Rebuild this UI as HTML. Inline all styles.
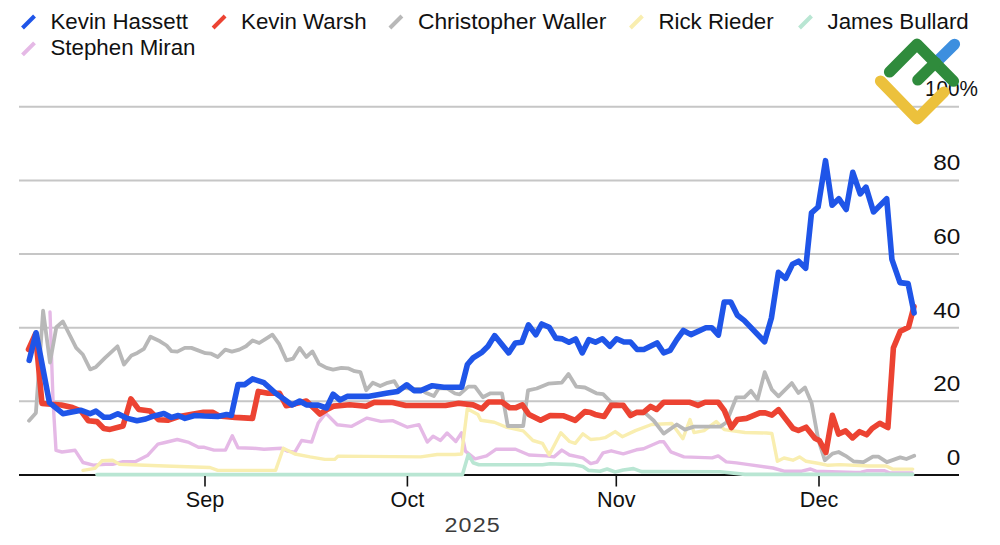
<!DOCTYPE html>
<html><head><meta charset="utf-8"><style>
html,body{margin:0;padding:0;background:#fff;}
svg{display:block;}
text{font-family:"Liberation Sans",sans-serif;fill:#111;}
</style></head><body>
<svg width="1000" height="545" viewBox="0 0 1000 545">
<g font-size="22.3"><line x1="22.5" y1="28.0" x2="34.5" y2="16.0" stroke="#1f55e8" stroke-width="4" /><text transform="translate(50.5,28.6) scale(1.0,1)">Kevin Hassett</text><line x1="213.1" y1="28.0" x2="225.1" y2="16.0" stroke="#ec4332" stroke-width="4" /><text transform="translate(241.1,28.6) scale(1.0,1)">Kevin Warsh</text><line x1="389.9" y1="28.0" x2="401.9" y2="16.0" stroke="#b8b8b8" stroke-width="4" /><text transform="translate(417.9,28.6) scale(1.025,1)">Christopher Waller</text><line x1="630.4" y1="28.0" x2="642.4" y2="16.0" stroke="#f9eeb0" stroke-width="4" /><text transform="translate(658.4,28.6) scale(1.0,1)">Rick Rieder</text><line x1="799.5" y1="28.0" x2="811.5" y2="16.0" stroke="#b9e6d3" stroke-width="4" /><text transform="translate(827.5,28.6) scale(1.0,1)">James Bullard</text><line x1="22.5" y1="54.8" x2="34.5" y2="42.8" stroke="#e5b9e6" stroke-width="4" /><text transform="translate(50.5,55.4) scale(1.0,1)">Stephen Miran</text></g>
<g stroke="#c6c6c6" stroke-width="2"><line x1="19" y1="401.3" x2="959" y2="401.3" /><line x1="19" y1="327.7" x2="959" y2="327.7" /><line x1="19" y1="254.0" x2="959" y2="254.0" /><line x1="19" y1="180.4" x2="959" y2="180.4" /><line x1="19" y1="106.7" x2="959" y2="106.7" /></g>
<line x1="19" y1="475" x2="959" y2="475" stroke="#111" stroke-width="2.2" />
<g fill="none" stroke-linejoin="round" stroke-linecap="round">
<polyline points="50,312 53,400 56,450.3 62,452 75.1,450.3 83,462.5 93.4,465.1 105.6,464.3 112.6,464.3 123,461.7 135.2,461.7 147.4,455.6 157.9,444.2 165,442.5 177.3,439.5 188.9,442.4 198.5,447.3 204.3,447.3 214,450.1 225.5,450.1 232.3,435.7 238,447.8 252.5,448.2 264,449.2 281.4,448.2 287.2,451.1 294.9,452.1 301.6,440.5 311.6,442.1 318.2,423 325.7,413.1 337.2,424.7 351.3,426.4 367,418.1 381,421.4 392.6,420.6 407.5,427.2 419,424.7 427.3,442.1 433.1,436.3 440.5,440.4 447.1,433 455.8,441.5 461.6,432.8 465.4,451.1 475,458.8 486.6,455.9 496.2,449.2 515.5,449.2 529,455 546.3,455.9 554,456.9 561.8,450.1 569.5,455 582.9,457.8 590.7,463.6 597,462 603.1,452.8 611.2,450.8 623.3,453.8 636.4,449.8 643.5,448.8 659.6,441.7 663.7,441.7 670.8,451.8 683.9,456.9 712.2,457.9 718.2,455.9 726.3,461.9 736.4,462.9 748.8,464.6 773,468 784,471.2 801.7,471.2 810.5,469 816,471.2 855,472.5 861.2,472.2 867.4,470.7 884.6,470.7 889.3,472.7 912,473" stroke="#e5b9e6" stroke-width="3.4" />
<polyline points="96.9,474.6 462.5,474.6 468.3,454.5 473.1,462.7 478.9,464.8 542.5,464.8 550.2,463.8 573.3,464.6 582.9,466.5 588.7,470.4 600,471.3 607.1,469 615.2,472 623.3,470 633.4,468.6 641.5,471.6 720,471.8 745,474.4 912.7,474.4" stroke="#b9e6d3" stroke-width="3.6" />
<polyline points="83,470.4 95,468.3 102,460.8 112.6,460.3 119.5,464.3 165,466 210,467.5 217.8,470.4 275.6,470.4 283.3,448.2 294.9,454 310,456.9 324.8,459.4 334.8,459.4 338,456.1 420.7,456.9 437.2,454.5 455,454.5 461.6,454 467.3,408.7 477.9,414.5 480.8,420.3 494.3,422.2 505.9,427 523.2,430.9 532.9,440.5 542.5,443.4 549.2,455 560.8,432.8 569.5,441.5 575.2,443.4 582.9,433.8 590.7,439.5 600,438.6 605.1,437.7 615.2,431.6 622.3,436.7 635.4,430.6 651.6,424.5 671.8,423.5 682.9,438.7 690,419.5 694,432.6 704.1,430.6 716.2,421.5 724.3,429.6 745,432.5 766.4,433 771.9,433.5 777.4,461.3 784,458 792.9,460.2 799.5,456.9 806.1,461.3 819.3,463.5 828.1,465.3 840,464.6 869,466 886.2,466 892.4,469.1 912.7,469.1" stroke="#f9eeb0" stroke-width="3.4" />
<polyline points="29,420.7 35.9,412.9 43.1,310.7 50,362.5 56.3,327.3 62.9,321.5 76.2,347.9 82.8,354.5 90.2,369.4 96,366.9 105,357.9 117.5,346.3 124,364.5 131.5,355.4 137.3,352.9 143.9,348.8 150.5,336.7 160,341.3 166.6,345.5 171.6,351.2 177.4,351.6 184.8,347.9 191.4,347.9 198,350.4 205.5,353.2 211.2,353.7 217.8,357 225.3,349.6 231.9,351.6 239.3,349.6 246,346.3 252.6,340.5 259.2,343 265.8,338.8 272.4,334.7 279,343.8 286.4,360.3 293,358.7 299.7,347.9 306.3,357 312.4,351.4 319,363.8 326.5,367.9 333.1,369.6 341.4,367.9 348,368.3 354.6,371.2 360.4,372.1 366.2,390.2 372.8,382.8 380.2,386.1 387.6,382.8 394.3,381.2 399.2,389.4 406,388 414,389 420,389 425.7,392.7 433.9,396 438.9,388 447.1,388.5 455,393.5 459.6,394.3 468.3,386.6 475,386.6 482.8,397.2 490.5,393.3 502,393.3 507.8,426 523.2,426 528,390.4 536.7,388.5 548.3,383.7 561.8,382.7 568.5,374 576.2,386.6 584.9,387.5 596.4,393.3 603.1,394.2 611.2,402.3 623,406 632,413 645.5,413.4 653.6,420.5 663.7,433.6 676.8,424.5 684.9,429.6 694,426.6 720.3,426.6 726.3,422.5 736.4,397.3 744.4,397.4 751,390.8 757.6,399.6 764.7,372.1 771.9,389.7 778.5,396.3 791.8,383.1 798.4,393 805,387.5 811.6,403 818.2,439.3 824.8,460.2 832.5,453.6 838.6,452 845.6,455.8 853.4,461.3 863.5,462.1 872.9,456.6 878.4,456.6 886.9,462.1 900.2,457.4 906.4,459 914.2,455.8" stroke="#b8b8b8" stroke-width="3.8" />
<polyline points="28.5,349.5 35.5,334 42,403.5 48,404 61.2,405 72.5,407.6 81.2,411 88.2,420.7 96.9,421.6 103.8,428.5 110,429.4 123,426 130.9,398.9 138.7,409.4 150,411.1 158.7,419.8 167.7,420.3 179.3,416.4 203.5,412.3 212.5,412.3 219,416 235.1,417.4 252.5,418.4 258.3,391.4 267.9,393.3 279.5,393.3 286.2,405.8 294.9,403.9 306.4,401 319.9,414 326.5,409.8 333.9,406.1 349.6,404.7 366.2,406.3 374.4,402.2 392.6,402.5 405.8,405.5 445.5,405.5 458.7,403.2 473.1,404.9 481.8,408.7 488.5,402 502,402 509.7,407.8 515.5,407.8 522.3,404.9 529,414.5 540.6,420.3 550.2,415.5 563.7,415.8 575.2,420.3 584.9,411.6 590.7,412.6 595,414.4 604.1,416.5 611.2,405.4 623.3,405.4 630.4,415.5 636.4,412.4 643.5,412.4 650.6,406.4 656.6,409.4 663.7,402.3 690,402.3 698,405.4 705.1,402.3 718.2,402.3 724.3,410.4 731.4,427.6 737.4,419.5 746.6,418.4 759.8,412.9 765.3,412.9 771.9,415.1 778.5,409.6 792.9,428.3 798.4,430.5 806.1,427.2 814.9,438.2 819.3,440.4 825.9,452.5 832.4,415.3 838.6,434 845.6,430.9 852.6,437.9 859.6,431.7 866.7,434.8 872.1,428.5 879.8,423.3 887.9,427.6 893.4,347.8 900.3,331.3 908.5,327.2 914,306.5" stroke="#ec4332" stroke-width="5.6" />
<polyline points="29.2,360.4 36.1,332.8 49.4,402.6 62.9,413.7 81.2,410.3 90,413.7 96,411.1 103.8,417.2 110,417.2 117.8,413.7 126.5,418.1 137,420.7 145.7,419 152.6,416.4 163.9,413.5 171.6,417.4 178.3,415.5 185,418.4 194.7,415.5 204.3,416 217.8,416.4 226.5,414.5 231.3,415.5 238,384.6 244.8,384.6 252.5,378.9 264,382.7 275.6,393.3 285.2,400 292,404.9 299.7,401 306.4,404.9 318.2,405.1 326.5,408 333.1,394.2 340,400 347.1,396.4 367.8,396.4 387.6,393.1 397.6,391.4 406.7,384.8 414.1,390.6 420.7,390.6 432.3,385.7 443.8,387.3 461.6,387.2 467.4,364.5 473.1,357.9 482.2,352.1 488,346.3 494.6,335.6 508.7,352.9 515.3,343 521.9,342.2 528.5,324.8 535.9,334.8 541.7,324 549.2,327.3 555.8,338.1 562.4,338.9 569,342.2 575.6,338.9 582.2,352.9 588.8,339.7 595.4,342.2 602.4,338.8 609.9,346.2 616.5,338.8 623.9,342 630.5,342 637.1,349.5 643.8,349.5 657,342.9 663.6,352.8 670.2,350.3 676.8,339.6 683.4,330.5 690.9,334.6 705.9,327.7 711.7,327.7 718.4,335.1 724.2,302 730.8,302 737.4,315.2 744.1,320.4 764.6,341.7 771.4,318 778.4,272.3 785.5,278.4 792.5,264.2 798.6,261.2 805.7,268.3 811.5,212.8 818.1,207 825.5,160.7 832.1,205.3 838.8,198.7 846.2,209.5 852.8,172.3 860.2,193.8 866,187.1 873.5,211.9 886.7,198.7 891.9,259.3 900,282.6 908.1,283.6 914.1,312.9" stroke="#1f55e8" stroke-width="5.6" />
</g>
<g font-size="21.6"><text transform="translate(960.3,465.0) scale(1.13,1)" text-anchor="end">0</text><text transform="translate(960.3,391.3) scale(1.13,1)" text-anchor="end">20</text><text transform="translate(960.3,317.7) scale(1.13,1)" text-anchor="end">40</text><text transform="translate(960.3,244.0) scale(1.13,1)" text-anchor="end">60</text><text transform="translate(960.3,170.4) scale(1.13,1)" text-anchor="end">80</text><text transform="translate(925,96.3) scale(0.96,1)">100%</text><line x1="205" y1="476" x2="205" y2="486.5" stroke="#111" stroke-width="1.6" /><text x="205" y="506.8" text-anchor="middle">Sep</text><line x1="407.4" y1="476" x2="407.4" y2="486.5" stroke="#111" stroke-width="1.6" /><text x="407.4" y="506.8" text-anchor="middle">Oct</text><line x1="616.3" y1="476" x2="616.3" y2="486.5" stroke="#111" stroke-width="1.6" /><text x="616.3" y="506.8" text-anchor="middle">Nov</text><line x1="819" y1="476" x2="819" y2="486.5" stroke="#111" stroke-width="1.6" /><text x="819" y="506.8" text-anchor="middle">Dec</text></g>
<text transform="translate(444.5,532) scale(1.15,1)" font-size="20.3" letter-spacing="1" style="fill:#3c3c3c">2025</text>
<g fill="none" stroke-linecap="round" stroke-linejoin="round" stroke-width="11.2">
<line x1="935.5" y1="63" x2="954.5" y2="44.3" stroke="#3d8fdf" />
<polyline points="880.5,81 917.3,118.8 944,92" stroke="#ecc13c" />
<polyline points="889.5,72 917,44.2 953.5,81.2" stroke="#2f8b3c" />
<line x1="917.8" y1="80" x2="935.5" y2="62.5" stroke="#2f8b3c" />
</g>
</svg>
</body></html>
